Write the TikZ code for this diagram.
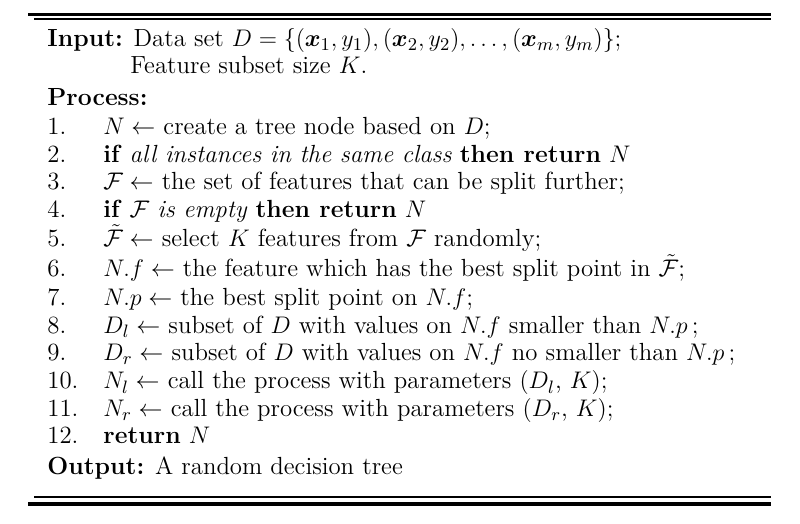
\documentclass[tikz,border=0pt]{standalone}
\usepackage{tikz}
\usepackage{amsmath,amssymb,amsfonts}

\begin{document}
\begin{tikzpicture}[x=0.5pt,y=-0.5pt,
  txt/.style={anchor=base west,inner sep=0pt,text height=8.5pt,text depth=2.5pt,font=\fontsize{12.4}{14}\selectfont}]
 \useasboundingbox (0,0) rectangle (800,524);
 \draw[line width=1.7pt] (28,14.5)--(771,14.5);
 \draw[line width=1pt] (34,19)--(771,19);
 \node[txt] (input) at (47,47) {\textbf{Input:} Data set $D=\{(\boldsymbol{x}_1,y_1),(\boldsymbol{x}_2,y_2),\ldots,(\boldsymbol{x}_m,y_m)\}$;};
 \node[txt] (size) at (130,74) {Feature subset size $K$.};
 \node[txt] (proc) at (47,106) {\textbf{Process:}};
 \node[txt] (n1) at (47,135) {1.};
 \node[txt] (s1) at (103,135) {$N \leftarrow$ create a tree node based on $D$;};
 \node[txt] (n2) at (47,162.5) {2.};
 \node[txt] (s2) at (103,162.5) {\textbf{if} \emph{all instances in the same class} \textbf{then return} $N$};
 \node[txt] (n3) at (47,190) {3.};
 \node[txt] (s3) at (103,190) {$\mathcal{F} \leftarrow$ the set of features that can be split further;};
 \node[txt] (n4) at (47,217.5) {4.};
 \node[txt] (s4) at (103,217.5) {\textbf{if} $\mathcal{F}$ \emph{is empty} \textbf{then return} $N$};
 \node[txt] (n5) at (47,247) {5.};
 \node[txt] (s5) at (103,247) {$\tilde{\mathcal{F}} \leftarrow$ select $K$ features from $\mathcal{F}$ randomly;};
 \node[txt] (n6) at (47,277) {6.};
 \node[txt] (s6) at (103,277) {$N.f \leftarrow$ the feature which has the best split point in $\tilde{\mathcal{F}}$;};
 \node[txt] (n7) at (47,305.5) {7.};
 \node[txt] (s7) at (103,305.5) {$N.p \leftarrow$ the best split point on $N.f$;};
 \node[txt] (n8) at (47,333.5) {8.};
 \node[txt] (s8) at (103,333.5) {$D_l \leftarrow$ subset of $D$ with values on $N.f$ smaller than $N.p$\,;};
 \node[txt] (n9) at (47,361) {9.};
 \node[txt] (s9) at (103,361) {$D_r \leftarrow$ subset of $D$ with values on $N.f$ no smaller than $N.p$\,;};
 \node[txt] (n10) at (47,389) {10.};
 \node[txt] (s10) at (103,389) {$N_l \leftarrow$ call the process with parameters $(D_l$, $K)$;};
 \node[txt] (n11) at (47,417) {11.};
 \node[txt] (s11) at (103,417) {$N_r \leftarrow$ call the process with parameters $(D_r$, $K)$;};
 \node[txt] (n12) at (47,444) {12.};
 \node[txt] (s12) at (103,444) {\textbf{return} $N$};
 \node[txt] (output) at (47,475) {\textbf{Output:} A random decision tree};
 \draw[line width=1pt] (34,497)--(771,497);
 \draw[line width=1.8pt] (28,504)--(771,504);
\end{tikzpicture}
\end{document}
